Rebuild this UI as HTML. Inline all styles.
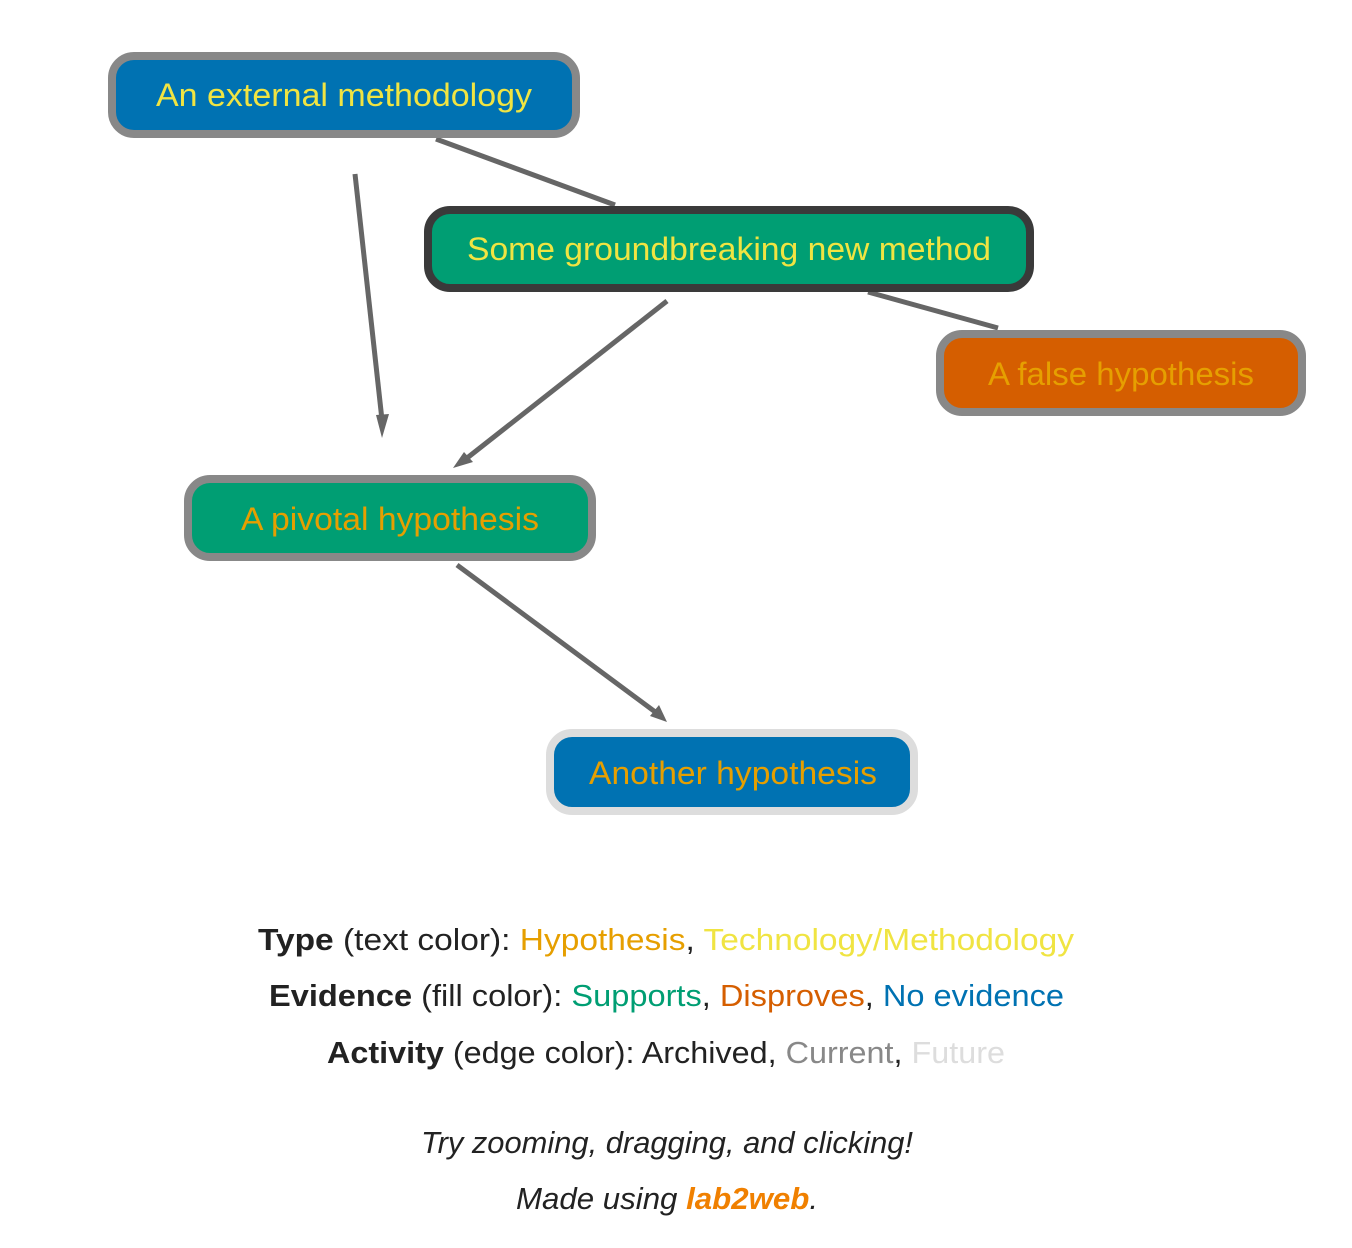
<!DOCTYPE html>
<html><head><meta charset="utf-8"><style>
html,body{margin:0;padding:0;background:#fff;}
svg{display:block;font-family:"Liberation Sans",sans-serif;}
</style></head><body>
<svg width="1352" height="1248" viewBox="0 0 1352 1248" xmlns="http://www.w3.org/2000/svg">
<g stroke="#666" stroke-width="5" fill="none">
<line x1="615" y1="205" x2="436" y2="139"/>
<line x1="868" y1="292" x2="998" y2="328"/>
<line x1="355" y1="174" x2="382" y2="420"/>
<line x1="667" y1="301" x2="462" y2="462"/>
<line x1="457" y1="565" x2="658" y2="714"/>
</g>
<g fill="#666">
<polygon points="382,438 376,415 389,414"/>
<polygon points="453,468 464,452 473,462"/>
<polygon points="667,722 650,716 659,705"/>
</g>
<g stroke-width="8">
<rect x="112" y="56" width="464" height="78" rx="22" fill="#0072B2" stroke="#888"/>
<rect x="428" y="210" width="602" height="78" rx="22" fill="#009E73" stroke="#3a3a3a"/>
<rect x="940" y="334" width="362" height="78" rx="22" fill="#D55E00" stroke="#888"/>
<rect x="188" y="479" width="404" height="78" rx="22" fill="#009E73" stroke="#888"/>
<rect x="550" y="733" width="364" height="78" rx="22" fill="#0072B2" stroke="#ddd"/>
</g>
<g font-size="32" text-anchor="middle">
<text x="344" y="106" fill="#F0E442" textLength="376" lengthAdjust="spacingAndGlyphs">An external methodology</text>
<text x="729" y="260" fill="#F0E442" textLength="524" lengthAdjust="spacingAndGlyphs">Some groundbreaking new method</text>
<text x="1121" y="385" fill="#E69F00" textLength="266" lengthAdjust="spacingAndGlyphs">A false hypothesis</text>
<text x="390" y="530" fill="#E69F00" textLength="298" lengthAdjust="spacingAndGlyphs">A pivotal hypothesis</text>
<text x="733" y="784" fill="#E69F00" textLength="288" lengthAdjust="spacingAndGlyphs">Another hypothesis</text>
</g>
<g font-size="31" fill="#222">
<text x="258" y="950" textLength="816" lengthAdjust="spacingAndGlyphs"><tspan font-weight="bold">Type</tspan> (text color): <tspan fill="#E69F00">Hypothesis</tspan>, <tspan fill="#F0E442">Technology/Methodology</tspan></text>
<text x="269" y="1006" textLength="795" lengthAdjust="spacingAndGlyphs"><tspan font-weight="bold">Evidence</tspan> (fill color): <tspan fill="#009E73">Supports</tspan>, <tspan fill="#D55E00">Disproves</tspan>, <tspan fill="#0072B2">No evidence</tspan></text>
<text x="327" y="1063" textLength="678" lengthAdjust="spacingAndGlyphs"><tspan font-weight="bold">Activity</tspan> (edge color): Archived, <tspan fill="#888">Current</tspan>, <tspan fill="#ddd">Future</tspan></text>
<text x="421" y="1153" font-style="italic" textLength="492" lengthAdjust="spacingAndGlyphs">Try zooming, dragging, and clicking!</text>
<text x="516" y="1209" font-style="italic" textLength="302" lengthAdjust="spacingAndGlyphs">Made using <tspan fill="#F08000" font-weight="bold">lab2web</tspan>.</text>
</g>
</svg>
</body></html>
